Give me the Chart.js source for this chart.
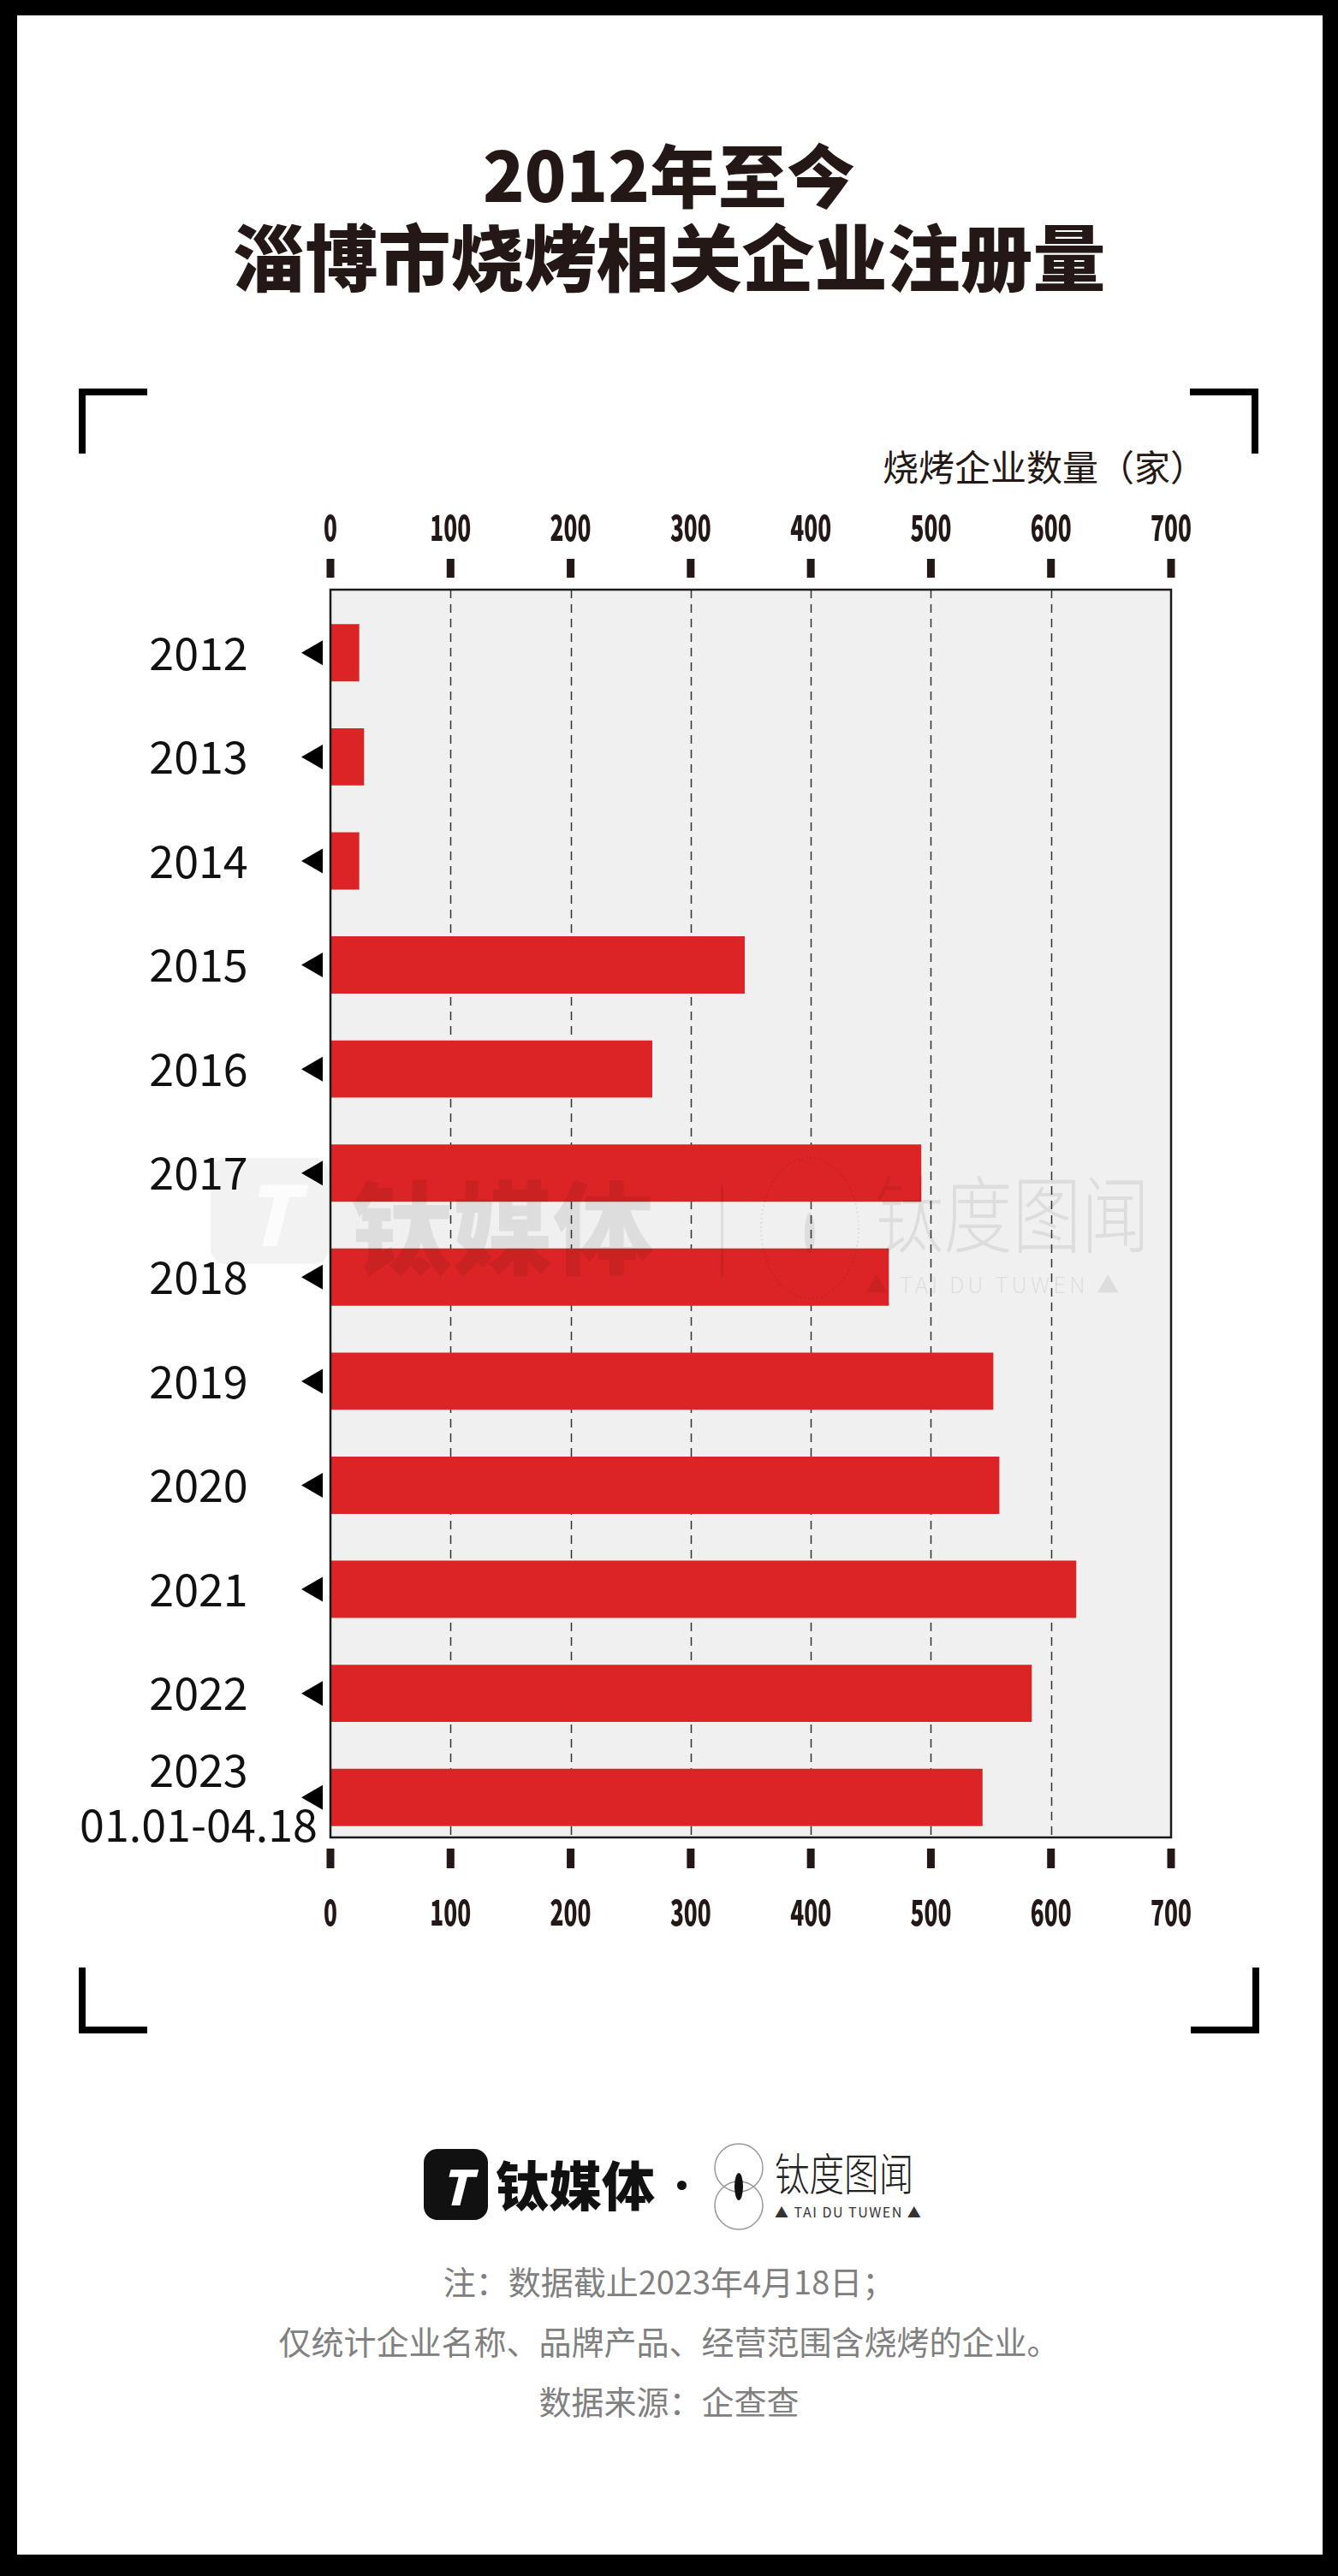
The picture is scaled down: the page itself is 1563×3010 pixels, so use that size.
<!DOCTYPE html>
<html>
<head>
<meta charset="utf-8">
<script src="https://cdn.jsdelivr.net/npm/chart.js@4.4.0/dist/chart.umd.min.js"></script>
<style>
  html, body { margin: 0; padding: 0; background: #fff; }
  #page { position: relative; width: 1563px; height: 3010px; overflow: hidden; background: #fff;
          font-family: 'Noto Sans CJK SC', sans-serif; color: #231815; }
  #frame { position: absolute; left: 0; top: 0; width: 1563px; height: 3010px; box-sizing: border-box;
           border: solid #000; border-width: 18px 18px 25px 20px; pointer-events: none; z-index: 10; }
  .abs { position: absolute; white-space: nowrap; line-height: 1; }
  .title { left: 0; width: 1563px; text-align: center; font-weight: 900; }
  .corner { position: absolute; width: 80px; height: 76px; box-sizing: border-box; border: 0 solid #000; }
  .note { left: 0; width: 1563px; text-align: center; font-size: 38px; color: #808080; font-weight: 400; }
  #chartBox { position: absolute; left: 0; top: 560px; width: 1563px; height: 1701px; }
  .wm { color: rgba(0, 0, 0, 0.08); z-index: 5; pointer-events: none; }
</style>
</head>
<body>
<div id="page">
  <div class="abs title" style="top:161px;font-size:80px;">2012年至今</div>
  <div class="abs title" style="top:254px;font-size:85px;">淄博市烧烤相关企业注册量</div>

  <div class="corner" style="left:92px;top:454px;border-top-width:8px;border-left-width:8px;"></div>
  <div class="corner" style="left:1390px;top:454px;border-top-width:8px;border-right-width:8px;"></div>
  <div class="corner" style="left:92px;top:2299px;height:77px;border-bottom-width:8px;border-left-width:8px;"></div>
  <div class="corner" style="left:1391px;top:2299px;height:77px;border-bottom-width:8px;border-right-width:8px;"></div>

  <div class="abs" style="right:154px;top:523px;font-size:42px;">烧烤企业数量（家）</div>

  <div id="chartBox"><canvas id="chart" width="1563" height="1701"></canvas></div>

  <!-- watermark -->
  <div class="abs wm" style="left:246px;top:1353px;width:138px;height:124px;border-radius:18px;background:rgba(0,0,0,0.05);color:rgba(255,255,255,0.7);font-size:96px;font-weight:900;font-style:italic;text-align:center;line-height:124px;">T</div>
  <div class="abs wm" style="left:410px;top:1370px;font-size:118px;font-weight:900;">钛媒体</div>
  <div class="abs wm" style="left:842px;top:1385px;width:3px;height:107px;background:rgba(0,0,0,0.08);"></div>
  <svg class="abs wm" style="left:880px;top:1345px;" width="132" height="180">
    <ellipse cx="66" cy="90" rx="57" ry="82" fill="none" stroke="rgba(0,0,0,0.08)" stroke-width="2" stroke-dasharray="2 3"/>
    <ellipse cx="66" cy="96" rx="6" ry="24" fill="rgba(0,0,0,0.08)"/>
  </svg>
  <div class="abs wm" style="left:1022px;top:1364px;font-size:98px;font-weight:200;transform:scaleX(0.82);transform-origin:left top;">钛度图闻</div>
  <div class="abs wm" style="left:1011px;top:1487px;font-size:26px;font-weight:300;letter-spacing:4px;">▲ TAI DU TUWEN ▲</div>

  <!-- footer logos -->
  <div class="abs" style="left:495px;top:2511px;width:75px;height:83px;border-radius:16px;background:#111;color:#fff;font-size:56px;font-weight:900;font-style:italic;text-align:center;line-height:83px;">T</div>
  <div class="abs" style="left:579px;top:2520px;font-size:62px;font-weight:900;color:#111;">钛媒体</div>
  <div class="abs" style="left:791px;top:2548px;width:11px;height:11px;border-radius:50%;background:#111;"></div>
  <svg class="abs" style="left:833px;top:2503px;" width="60" height="104">
    <circle cx="30" cy="30" r="28" fill="none" stroke="#999" stroke-width="1.5"/>
    <circle cx="30" cy="74" r="28" fill="none" stroke="#999" stroke-width="1.5"/>
    <ellipse cx="30" cy="52" rx="5" ry="16" fill="#111"/>
  </svg>
  <div class="abs" style="left:905px;top:2512px;font-size:52px;font-weight:300;color:#222;transform:scaleX(0.78);transform-origin:left top;">钛度图闻</div>
  <div class="abs" style="left:905px;top:2576px;font-size:16px;letter-spacing:1.5px;color:#333;">▲ TAI DU TUWEN ▲</div>

  <div class="abs note" style="top:2646px;">注：数据截止2023年4月18日；</div>
  <div class="abs note" style="top:2716px;">仅统计企业名称、品牌产品、经营范围含烧烤的企业。</div>
  <div class="abs note" style="top:2786px;">数据来源：企查查</div>

  <div id="frame"></div>
</div>

<script>
const categories = ['2012', '2013', '2014', '2015', '2016', '2017', '2018', '2019', '2020', '2021', '2022', ['2023', '01.01-04.18']];
const companyCounts = [24, 28, 24, 345, 268, 492, 465, 552, 557, 621, 584, 543];
const xTickValues = [0, 100, 200, 300, 400, 500, 600, 700];

const LABEL_FONT = "'Noto Sans CJK SC', 'Noto Sans', sans-serif";
const INK = '#231815';

// y labels are centred around x=232 while the plot starts at x=386
const mctx = document.createElement('canvas').getContext('2d');
mctx.font = '52px ' + LABEL_FONT;
const widest = Math.max(...categories.flat().map(s => mctx.measureText(s).width));
const yPad = 386 - 232 - widest / 2;

// the grey plot frame sits a little above the bar bands
const FRAME_UP_TOP = 13;
const FRAME_UP_BOTTOM = 14;

// condensed bold numbers on both value axes
function drawAxisLabels(ctx, scale, baseline) {
  ctx.save();
  ctx.fillStyle = INK;
  ctx.font = '900 41px ' + LABEL_FONT;
  ctx.textAlign = 'center';
  ctx.textBaseline = 'alphabetic';
  scale.ticks.forEach(t => {
    ctx.save();
    ctx.translate(scale.getPixelForValue(t.value), baseline);
    ctx.scale(0.64, 1);
    ctx.fillText(t.label, 0, 0);
    ctx.restore();
  });
  ctx.restore();
}

const plotDecor = {
  id: 'plotDecor',
  beforeDatasetsDraw(chart) {
    const { ctx, chartArea: a, scales: { x } } = chart;
    const top = a.top - FRAME_UP_TOP, bottom = a.bottom - FRAME_UP_BOTTOM;
    ctx.save();
    ctx.fillStyle = '#f0f0f0';
    ctx.fillRect(a.left, top, a.right - a.left, bottom - top);
    ctx.strokeStyle = '#333';
    ctx.lineWidth = 1.5;
    ctx.setLineDash([10, 7]);
    x.ticks.forEach(t => {
      if (t.value === x.min || t.value === x.max) return;
      const px = Math.round(x.getPixelForValue(t.value)) + 0.5;
      ctx.beginPath();
      ctx.moveTo(px, top);
      ctx.lineTo(px, bottom);
      ctx.stroke();
    });
    ctx.restore();
  },
  afterDatasetsDraw(chart) {
    const { ctx, chartArea: a, scales: { x, x2, y } } = chart;
    const top = a.top - FRAME_UP_TOP, bottom = a.bottom - FRAME_UP_BOTTOM;
    ctx.save();
    ctx.strokeStyle = '#1a1a1a';
    ctx.lineWidth = 2.5;
    ctx.strokeRect(a.left, top, a.right - a.left, bottom - top);

    ctx.fillStyle = INK;
    x.ticks.forEach(t => {
      const px = x.getPixelForValue(t.value);
      ctx.fillRect(px - 4.5, top - 36, 9, 22);
      ctx.fillRect(px - 4.5, bottom + 13, 9, 23);
    });

    ctx.fillStyle = '#000';
    y.ticks.forEach((t, i) => {
      const py = y.getPixelForTick(i);
      ctx.beginPath();
      ctx.moveTo(a.left - 34, py);
      ctx.lineTo(a.left - 9, py - 14.5);
      ctx.lineTo(a.left - 9, py + 14.5);
      ctx.closePath();
      ctx.fill();
    });
    ctx.restore();

    drawAxisLabels(ctx, x2, top - 57);
    drawAxisLabels(ctx, x, bottom + 103);
  }
};

const xAxis = (position, height) => ({
  type: 'linear',
  position,
  min: 0,
  max: 700,
  afterBuildTicks: s => { s.ticks = xTickValues.map(v => ({ value: v })); },
  ticks: { display: false },
  grid: { display: false, drawTicks: false },
  border: { display: false },
  afterFit: s => { s.height = height; }
});

new Chart(document.getElementById('chart'), {
  type: 'bar',
  data: {
    labels: categories,
    datasets: [{
      data: companyCounts,
      backgroundColor: '#dc2426',
      borderWidth: 0,
      categoryPercentage: 1,
      barPercentage: 0.551
    }]
  },
  options: {
    indexAxis: 'y',
    responsive: false,
    animation: false,
    layout: { padding: { left: 60, right: 195, top: 0, bottom: 0 } },
    plugins: { legend: { display: false }, tooltip: { enabled: false } },
    scales: {
      x: xAxis('bottom', 100),
      x2: xAxis('top', 142),
      y: {
        type: 'category',
        offset: true,
        ticks: { autoSkip: false, crossAlign: 'center', padding: yPad, font: { family: LABEL_FONT, size: 52, lineHeight: 1.23 }, color: '#111' },
        grid: { display: false, drawTicks: false },
        border: { display: false },
        afterFit: s => { s.width = 326; }
      }
    }
  },
  plugins: [plotDecor]
});
</script>
</body>
</html>
